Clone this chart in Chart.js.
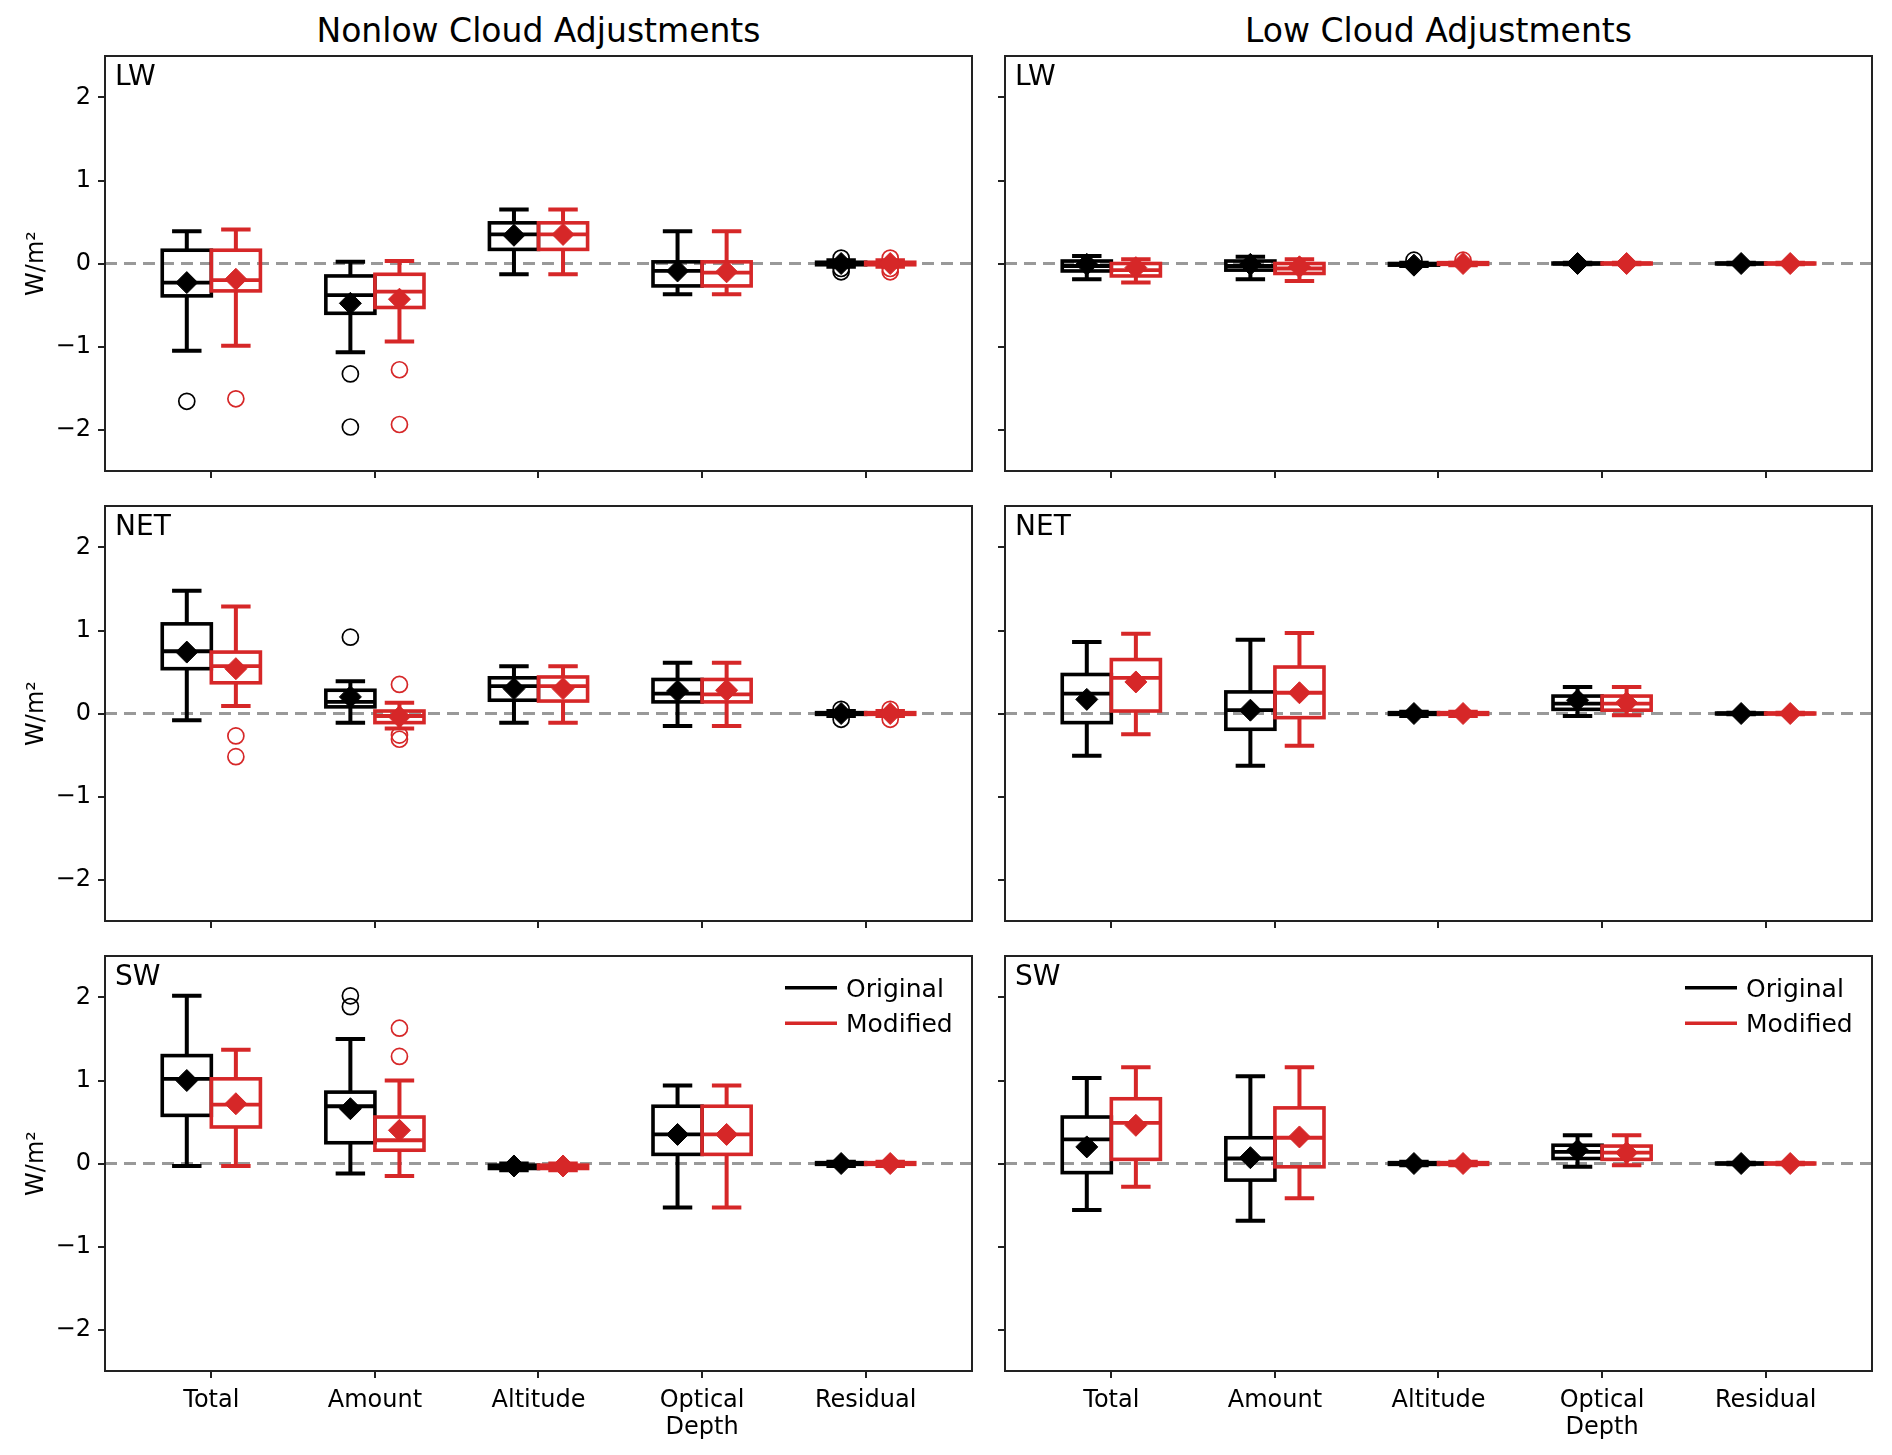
<!DOCTYPE html>
<html>
<head>
<meta charset="utf-8">
<script src="https://cdn.jsdelivr.net/npm/chart.js@4.4.1/dist/chart.umd.min.js"></script>
<style>
  body { margin: 0; background: #fff; width: 1892px; height: 1455px; position: relative; overflow: hidden; font-family: "DejaVu Sans", sans-serif; }
  .panel { position: absolute; }
  .head { position: absolute; top: 13px; height: 36px; line-height: 36px; font-size: 33px; text-align: center; color: #000; }
</style>
</head>
<body>
<div class="head" style="left:105px;width:867px">Nonlow Cloud Adjustments</div>
<div class="head" style="left:1005px;width:867px">Low Cloud Adjustments</div>
<div class="panel" id="p0"><canvas id="c0"></canvas></div>
<div class="panel" id="p1"><canvas id="c1"></canvas></div>
<div class="panel" id="p2"><canvas id="c2"></canvas></div>
<div class="panel" id="p3"><canvas id="c3"></canvas></div>
<div class="panel" id="p4"><canvas id="c4"></canvas></div>
<div class="panel" id="p5"><canvas id="c5"></canvas></div>
<script>
// categories and series
const categories = ['Total', 'Amount', 'Altitude', ['Optical', 'Depth'], 'Residual'];
const seriesNames = ['Original', 'Modified'];
const seriesColors = ['#000000', '#d62728'];
const rowTags = ['LW', 'NET', 'SW'];
const yTickValues = [-2, -1, 0, 1, 2];

// box stats per category: [whisker low, q1, median, q3, whisker high]
// --- Nonlow, LW
const nonlowLwOrigBox = [[-1.05, -0.39, -0.23, 0.16, 0.39], [-1.07, -0.60, -0.38, -0.15, 0.02], [-0.13, 0.17, 0.35, 0.49, 0.65], [-0.37, -0.27, -0.09, 0.02, 0.39], [-0.04, -0.015, 0.0, 0.015, 0.04]];
const nonlowLwOrigMean = [-0.23, -0.48, 0.34, -0.09, 0.0];
const nonlowLwOrigFliers = [[-1.66], [-1.33, -1.97], [], [], [0.065, -0.06, -0.10]];
const nonlowLwModBox = [[-0.99, -0.33, -0.20, 0.16, 0.41], [-0.94, -0.53, -0.34, -0.13, 0.03], [-0.13, 0.17, 0.35, 0.49, 0.65], [-0.37, -0.27, -0.11, 0.02, 0.39], [-0.04, -0.015, 0.0, 0.015, 0.04]];
const nonlowLwModMean = [-0.19, -0.43, 0.35, -0.10, 0.0];
const nonlowLwModFliers = [[-1.63], [-1.28, -1.94], [], [], [0.065, -0.06, -0.10]];
// --- Nonlow, NET
const nonlowNetOrigBox = [[-0.08, 0.54, 0.75, 1.08, 1.48], [-0.11, 0.08, 0.14, 0.28, 0.39], [-0.11, 0.16, 0.33, 0.43, 0.57], [-0.15, 0.14, 0.24, 0.41, 0.61], [-0.03, -0.01, 0.0, 0.01, 0.03]];
const nonlowNetOrigMean = [0.74, 0.20, 0.30, 0.27, 0.0];
const nonlowNetOrigFliers = [[], [0.92], [], [], [0.05, -0.07]];
const nonlowNetModBox = [[0.09, 0.37, 0.57, 0.74, 1.29], [-0.18, -0.11, -0.03, 0.03, 0.13], [-0.11, 0.15, 0.33, 0.44, 0.57], [-0.15, 0.14, 0.23, 0.41, 0.61], [-0.03, -0.01, 0.0, 0.01, 0.03]];
const nonlowNetModMean = [0.54, -0.04, 0.30, 0.28, 0.0];
const nonlowNetModFliers = [[-0.27, -0.52], [0.35, -0.26, -0.31], [], [], [0.05, -0.07]];
// --- Nonlow, SW
const nonlowSwOrigBox = [[-0.03, 0.58, 1.02, 1.30, 2.02], [-0.12, 0.25, 0.69, 0.86, 1.50], [-0.08, -0.06, -0.04, -0.02, 0.0], [-0.53, 0.11, 0.35, 0.69, 0.94], [-0.03, -0.01, 0.0, 0.01, 0.02]];
const nonlowSwOrigMean = [1.00, 0.66, -0.03, 0.35, 0.0];
const nonlowSwOrigFliers = [[], [2.02, 1.89], [], [], []];
const nonlowSwModBox = [[-0.03, 0.44, 0.71, 1.02, 1.37], [-0.15, 0.16, 0.28, 0.56, 1.00], [-0.08, -0.06, -0.04, -0.02, 0.0], [-0.53, 0.11, 0.35, 0.69, 0.94], [-0.03, -0.01, 0.0, 0.01, 0.02]];
const nonlowSwModMean = [0.72, 0.40, -0.03, 0.35, 0.0];
const nonlowSwModFliers = [[], [1.63, 1.29], [], [], []];
// --- Low, LW
const lowLwOrigBox = [[-0.19, -0.09, -0.03, 0.03, 0.09], [-0.19, -0.08, -0.03, 0.03, 0.08], [-0.03, -0.02, -0.01, 0.0, 0.01], [-0.01, -0.005, 0.0, 0.005, 0.01], [-0.01, -0.005, 0.0, 0.005, 0.01]];
const lowLwOrigMean = [-0.01, -0.01, -0.02, 0.0, 0.0];
const lowLwOrigFliers = [[], [], [0.04], [], []];
const lowLwModBox = [[-0.23, -0.15, -0.08, 0.0, 0.05], [-0.21, -0.12, -0.06, 0.0, 0.05], [-0.02, -0.01, 0.0, 0.01, 0.01], [-0.01, -0.005, 0.0, 0.005, 0.01], [-0.01, -0.005, 0.0, 0.005, 0.01]];
const lowLwModMean = [-0.05, -0.04, 0.0, 0.0, 0.0];
const lowLwModFliers = [[], [], [0.04], [], []];
// --- Low, NET
const lowNetOrigBox = [[-0.51, -0.11, 0.24, 0.47, 0.86], [-0.63, -0.19, 0.04, 0.26, 0.89], [-0.03, -0.01, 0.0, 0.01, 0.02], [-0.03, 0.05, 0.12, 0.21, 0.32], [-0.01, -0.005, 0.0, 0.005, 0.01]];
const lowNetOrigMean = [0.17, 0.04, 0.0, 0.16, 0.0];
const lowNetOrigFliers = [[], [], [], [], []];
const lowNetModBox = [[-0.25, 0.03, 0.43, 0.65, 0.96], [-0.39, -0.05, 0.25, 0.56, 0.97], [-0.03, -0.01, 0.0, 0.01, 0.02], [-0.02, 0.04, 0.12, 0.21, 0.32], [-0.01, -0.005, 0.0, 0.005, 0.01]];
const lowNetModMean = [0.38, 0.25, 0.0, 0.13, 0.0];
const lowNetModFliers = [[], [], [], [], []];
// --- Low, SW
const lowSwOrigBox = [[-0.56, -0.11, 0.29, 0.56, 1.03], [-0.69, -0.20, 0.06, 0.31, 1.05], [-0.02, -0.01, 0.0, 0.01, 0.02], [-0.04, 0.06, 0.14, 0.22, 0.34], [-0.01, -0.005, 0.0, 0.005, 0.01]];
const lowSwOrigMean = [0.20, 0.07, 0.0, 0.16, 0.0];
const lowSwOrigFliers = [[], [], [], [], []];
const lowSwModBox = [[-0.28, 0.05, 0.49, 0.78, 1.16], [-0.42, -0.04, 0.31, 0.67, 1.16], [-0.02, -0.01, 0.0, 0.01, 0.02], [-0.02, 0.05, 0.13, 0.21, 0.34], [-0.01, -0.005, 0.0, 0.005, 0.01]];
const lowSwModMean = [0.46, 0.32, 0.0, 0.13, 0.0];
const lowSwModFliers = [[], [], [], [], []];

// layout (px)
const colLeft = [105, 1005];
const plotW = 867;
const rowTop = [56, 506, 956];
const plotH = 415;
const boxOffset = [-0.15, 0.15];
const boxWidth = 0.3;
const capWidth = 0.18;

const panels = [
  { col: 0, row: 0, box: [nonlowLwOrigBox, nonlowLwModBox], mean: [nonlowLwOrigMean, nonlowLwModMean], fliers: [nonlowLwOrigFliers, nonlowLwModFliers] },
  { col: 0, row: 1, box: [nonlowNetOrigBox, nonlowNetModBox], mean: [nonlowNetOrigMean, nonlowNetModMean], fliers: [nonlowNetOrigFliers, nonlowNetModFliers] },
  { col: 0, row: 2, box: [nonlowSwOrigBox, nonlowSwModBox], mean: [nonlowSwOrigMean, nonlowSwModMean], fliers: [nonlowSwOrigFliers, nonlowSwModFliers] },
  { col: 1, row: 0, box: [lowLwOrigBox, lowLwModBox], mean: [lowLwOrigMean, lowLwModMean], fliers: [lowLwOrigFliers, lowLwModFliers] },
  { col: 1, row: 1, box: [lowNetOrigBox, lowNetModBox], mean: [lowNetOrigMean, lowNetModMean], fliers: [lowNetOrigFliers, lowNetModFliers] },
  { col: 1, row: 2, box: [lowSwOrigBox, lowSwModBox], mean: [lowSwOrigMean, lowSwModMean], fliers: [lowSwOrigFliers, lowSwModFliers] }
];

Chart.defaults.font.family = '"DejaVu Sans", sans-serif';
Chart.defaults.color = '#000';

const boxPlugin = {
  id: 'boxes',
  beforeDatasetsDraw(chart) {
    const ctx = chart.ctx, a = chart.chartArea, x = chart.scales.x, y = chart.scales.y;
    const p = chart.options.plugins.boxes;
    ctx.save();
    // zero line
    const y0 = y.getPixelForValue(0);
    ctx.beginPath();
    ctx.setLineDash([12, 7]);
    ctx.strokeStyle = '#999';
    ctx.lineWidth = 3.2;
    ctx.moveTo(a.left, y0);
    ctx.lineTo(a.right, y0);
    ctx.stroke();
    ctx.setLineDash([]);
    p.box.forEach((stats, s) => {
      ctx.strokeStyle = seriesColors[s];
      stats.forEach((v, i) => {
        const c = i + 1 + boxOffset[s];
        const xl = x.getPixelForValue(c - boxWidth / 2);
        const xr = x.getPixelForValue(c + boxWidth / 2);
        const xc = x.getPixelForValue(c);
        const cl = x.getPixelForValue(c - capWidth / 2);
        const cr = x.getPixelForValue(c + capWidth / 2);
        const lo = y.getPixelForValue(v[0]), q1 = y.getPixelForValue(v[1]), md = y.getPixelForValue(v[2]);
        const q3 = y.getPixelForValue(v[3]), hi = y.getPixelForValue(v[4]);
        ctx.lineWidth = 4;
        ctx.beginPath();
        ctx.moveTo(xc, q1); ctx.lineTo(xc, lo);
        ctx.moveTo(xc, q3); ctx.lineTo(xc, hi);
        ctx.moveTo(cl, lo); ctx.lineTo(cr, lo);
        ctx.moveTo(cl, hi); ctx.lineTo(cr, hi);
        ctx.stroke();
        ctx.lineWidth = 3.6;
        ctx.strokeRect(xl, q3, xr - xl, q1 - q3);
        ctx.lineWidth = 3.8;
        ctx.beginPath();
        ctx.moveTo(xl, md); ctx.lineTo(xr, md);
        ctx.stroke();
      });
    });
    ctx.restore();
  },
  afterDraw(chart) {
    const ctx = chart.ctx, a = chart.chartArea;
    const p = chart.options.plugins.boxes;
    ctx.save();
    ctx.strokeStyle = '#222';
    ctx.lineWidth = 2;
    ctx.strokeRect(a.left, a.top, a.right - a.left, a.bottom - a.top);
    ctx.fillStyle = '#000';
    ctx.textBaseline = 'alphabetic';
    ctx.textAlign = 'left';
    ctx.font = '28px "DejaVu Sans"';
    ctx.fillText(p.tag, a.left + 10, a.top + 29);
    if (p.legend) {
      ctx.font = '25px "DejaVu Sans"';
      seriesNames.forEach((name, s) => {
        const ly = a.top + 31.7 + s * 35.6;
        ctx.strokeStyle = seriesColors[s];
        ctx.lineWidth = 3.5;
        ctx.beginPath();
        ctx.moveTo(a.right - 187, ly);
        ctx.lineTo(a.right - 135, ly);
        ctx.stroke();
        ctx.fillText(name, a.right - 126, ly + 9);
      });
    }
    ctx.restore();
  }
};

panels.forEach((pn, k) => {
  const bottomRow = pn.row === 2;
  const yAxisW = pn.col === 0 ? 105 : 20;
  const xAxisH = bottomRow ? 80 : 12;
  const div = document.getElementById('p' + k);
  div.style.left = (colLeft[pn.col] - yAxisW) + 'px';
  div.style.top = (rowTop[pn.row] - 4) + 'px';
  div.style.width = (yAxisW + plotW + 4) + 'px';
  div.style.height = (4 + plotH + xAxisH) + 'px';

  const datasets = [];
  seriesNames.forEach((name, s) => {
    datasets.push({
      label: name + ' mean',
      data: pn.mean[s].map((m, i) => ({ x: i + 1 + boxOffset[s], y: m })),
      pointStyle: 'rectRot',
      pointRadius: 11,
      backgroundColor: seriesColors[s],
      borderColor: seriesColors[s],
      borderWidth: 1
    });
  });
  seriesNames.forEach((name, s) => {
    const pts = [];
    pn.fliers[s].forEach((arr, i) => arr.forEach(v => pts.push({ x: i + 1 + boxOffset[s], y: v })));
    datasets.push({
      label: name + ' outliers',
      data: pts,
      pointStyle: 'circle',
      pointRadius: 8,
      backgroundColor: 'rgba(0,0,0,0)',
      borderColor: seriesColors[s],
      borderWidth: 1.7
    });
  });

  new Chart(document.getElementById('c' + k), {
    type: 'scatter',
    data: { datasets: datasets },
    plugins: [boxPlugin],
    options: {
      responsive: true,
      maintainAspectRatio: false,
      animation: false,
      events: [],
      layout: { autoPadding: false, padding: { top: 4, right: 4, left: 0, bottom: 0 } },
      plugins: {
        legend: { display: false },
        tooltip: { enabled: false },
        boxes: { tag: rowTags[pn.row], legend: bottomRow, box: pn.box }
      },
      scales: {
        x: {
          type: 'linear',
          min: 0.35,
          max: 5.65,
          afterFit: sc => { sc.height = xAxisH; sc.paddingLeft = 0; sc.paddingRight = 0; },
          afterBuildTicks: sc => { sc.ticks = categories.map((c, i) => ({ value: i + 1 })); },
          border: { display: false },
          grid: { drawOnChartArea: false, drawTicks: true, tickLength: 7, lineWidth: 2, color: '#222' },
          ticks: {
            autoSkip: false,
            maxRotation: 0,
            includeBounds: false,
            padding: 9,
            font: { size: 24, lineHeight: 1.14 },
            callback: (v, i) => bottomRow ? categories[i] : ''
          }
        },
        y: {
          type: 'linear',
          min: -2.5,
          max: 2.5,
          afterFit: sc => { sc.width = yAxisW; sc.paddingTop = 0; sc.paddingBottom = 0; },
          afterBuildTicks: sc => { sc.ticks = yTickValues.map(v => ({ value: v })); },
          border: { display: false },
          grid: { drawOnChartArea: false, drawTicks: true, tickLength: 7, lineWidth: 2, color: '#222' },
          title: { display: pn.col === 0, text: 'W/m²', font: { size: 24 }, padding: { top: 22, bottom: 0 } },
          ticks: {
            includeBounds: false,
            padding: 7,
            font: { size: 24 },
            callback: v => pn.col === 0 ? (v < 0 ? '\u2212' + Math.abs(v) : String(v)) : ''
          }
        }
      }
    }
  });
});
</script>
</body>
</html>
